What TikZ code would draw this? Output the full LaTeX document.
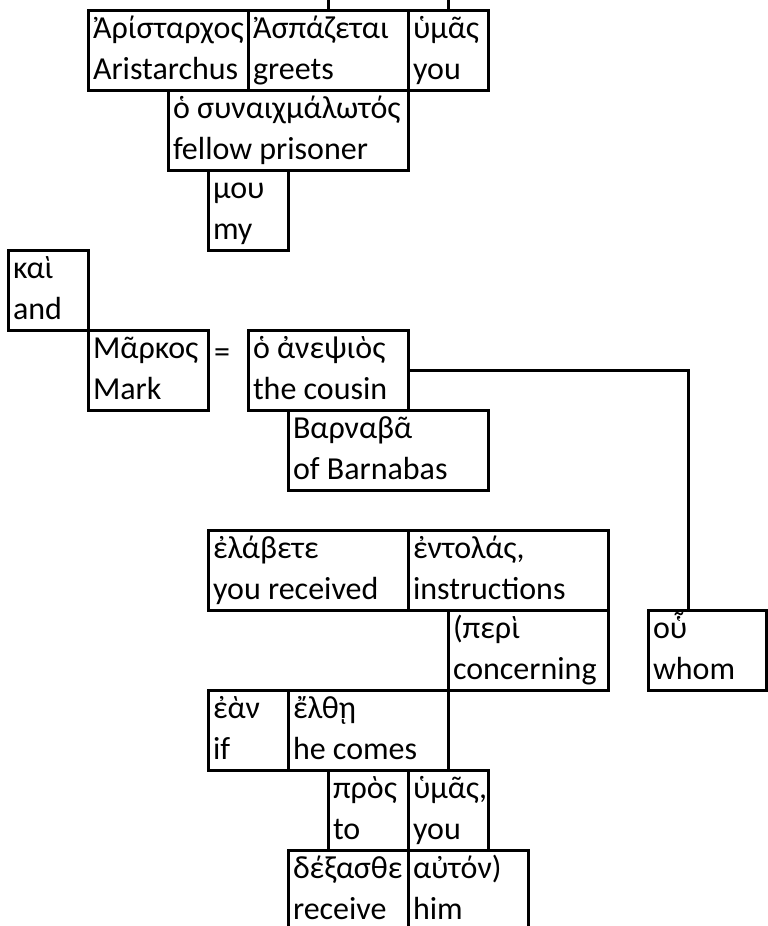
\documentclass[tikz,border=0pt]{standalone}
\usepackage{fontspec}
\setmainfont{Carlito}
\tikzset{
  wbox/.style={draw, line width=3pt, inner sep=0pt, outer sep=0pt, rectangle},
  wtxt/.style={anchor=base west, inner sep=0pt, outer sep=0pt, font=\fontsize{32}{38}\selectfont},
  conn/.style={draw, line width=3pt}
}
\newcommand\wbx[7]{%
  \node[wbox, minimum width=#4pt, minimum height=#5pt, anchor=north west] (#1) at (#2,#3) {};
  \node[wtxt] (#1g) at (#2+5,#3+28) {#6};
  \node[wtxt] (#1e) at (#2+5,#3+69) {#7};
}
\begin{document}
\begin{tikzpicture}[x=1pt,y=-1pt]
\clip (0,0) rectangle (768,926);
\fill[white] (0,0) rectangle (768,926);
\node[wbox, minimum width=120pt, minimum height=80pt, anchor=north west] (prev) at (328,-70) {};
\wbx{aris}{88}{10}{160}{80}{Ἀρίσταρχος}{Aristarchus}
\wbx{aspa}{248}{10}{160}{80}{Ἀσπάζεται}{greets}
\wbx{hym}{408}{10}{80}{80}{ὑμᾶς}{you}
\wbx{syn}{168}{90}{240}{80}{ὁ συναιχμάλωτός}{fellow prisoner}
\wbx{mou}{208}{170}{80}{80}{μου}{my}
\wbx{kai}{8}{250}{80}{80}{καὶ}{and}
\wbx{mark}{88}{330}{120}{80}{Μᾶρκος}{Mark}
\node[wtxt] (eq) at (214,362) {=};
\wbx{anep}{248}{330}{160}{80}{ὁ ἀνεψιὸς}{the cousin}
\wbx{barn}{288}{410}{200}{80}{Βαρναβᾶ}{of Barnabas}
\wbx{elab}{208}{530}{200}{80}{ἐλάβετε}{you received}
\wbx{ento}{408}{530}{200}{80}{ἐντολάς,}{instructions}
\wbx{peri}{448}{610}{160}{80}{(περὶ}{concerning}
\wbx{hou}{648}{610}{118}{80}{οὗ}{whom}
\wbx{ean}{208}{690}{80}{80}{ἐὰν}{if}
\wbx{elth}{288}{690}{160}{80}{ἔλθῃ}{he comes}
\wbx{pros}{328}{770}{80}{80}{πρὸς}{to}
\wbx{hym2}{408}{770}{80}{80}{ὑμᾶς,}{you}
\wbx{dex}{288}{850}{120}{80}{δέξασθε}{receive}
\wbx{aut}{408}{850}{120}{80}{αὐτόν)}{him}
\draw[conn] (anep.east) -| ([xshift=40pt]hou.north west);
\end{tikzpicture}
\end{document}
